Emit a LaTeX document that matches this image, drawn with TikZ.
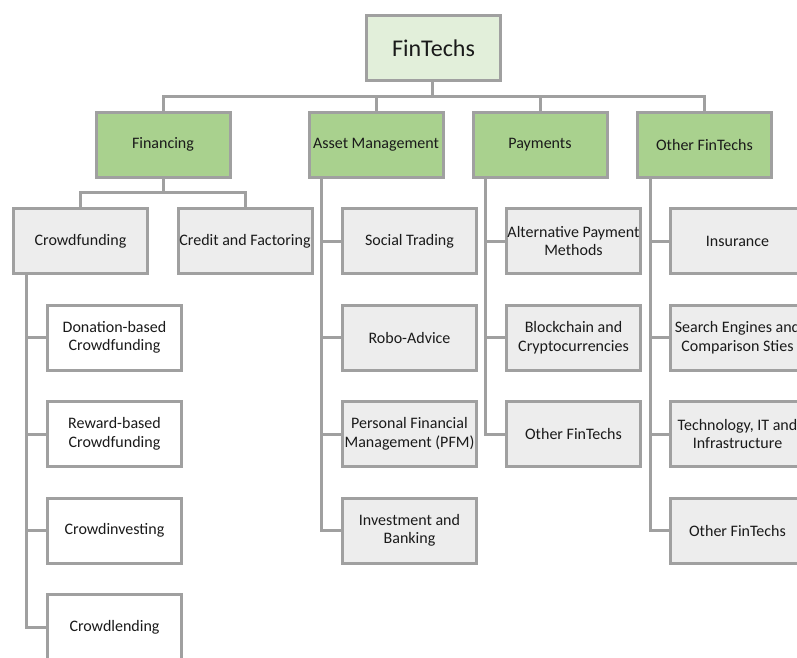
\documentclass[tikz,border=0pt]{standalone}
\usepackage{fontspec}
\setmainfont{Carlito}
\definecolor{bd}{HTML}{A0A0A0}
\definecolor{grn}{HTML}{A9D18E}
\definecolor{lgrn}{HTML}{E2EFDA}
\definecolor{gry}{HTML}{EDEDED}
\definecolor{txt}{HTML}{1A1A1A}
\tikzset{
  box/.style={draw=bd, line width=3pt, minimum width=134pt, minimum height=65pt, inner sep=0pt, align=center, text=txt, font=\fontsize{16}{18.5}\selectfont},
  rootbox/.style={box, fill=lgrn, font=\fontsize{24}{28}\selectfont},
  gbox/.style={box, fill=grn},
  lbox/.style={box, fill=gry},
  wbox/.style={box, fill=white},
  conn/.style={draw=bd, line width=3pt}
}
\begin{document}
\begin{tikzpicture}[x=1pt,y=-1pt]
\useasboundingbox (0,0) rectangle (797,657);
\clip (0,0) rectangle (797,657);
% level 0
\node[rootbox] (root) at (433.5,48) {FinTechs};
% level 1
\node[gbox] (fin) at (163,144.5) {Financing};
\node[gbox] (am) at (376,144.5) {Asset Management};
\node[gbox] (pay) at (540,144.5) {Payments};
\node[gbox] (oth) at (704.5,144.5) {Other FinTechs};
% financing children
\node[lbox] (cf) at (80.5,241) {Crowdfunding};
\node[lbox] (cr) at (245,241) {Credit and Factoring};
% crowdfunding children
\node[wbox] (cf1) at (114.5,337.5) {Donation-based\\Crowdfunding};
\node[wbox] (cf2) at (114.5,434) {Reward-based\\Crowdfunding};
\node[wbox] (cf3) at (114.5,530.5) {Crowdinvesting};
\node[wbox] (cf4) at (114.5,627) {Crowdlending};
% asset management children
\node[lbox] (am1) at (409.5,241) {Social Trading};
\node[lbox] (am2) at (409.5,337.5) {Robo-Advice};
\node[lbox] (am3) at (409.5,434) {Personal Financial\\Management (PFM)};
\node[lbox] (am4) at (409.5,530.5) {Investment and\\Banking};
% payments children
\node[lbox] (pa1) at (573.5,241) {Alternative Payment\\Methods};
\node[lbox] (pa2) at (573.5,337.5) {Blockchain and\\Cryptocurrencies};
\node[lbox] (pa3) at (573.5,434) {Other FinTechs};
% other children
\node[lbox] (ot1) at (737.5,241) {Insurance};
\node[lbox] (ot2) at (737.5,337.5) {Search Engines and\\Comparison Sties};
\node[lbox] (ot3) at (737.5,434) {Technology, IT and\\Infrastructure};
\node[lbox] (ot4) at (737.5,530.5) {Other FinTechs};
% connectors level 0 -> 1
\foreach \c in {fin,am,pay,oth}
  \draw[conn] ([xshift=-1.5pt]root.south) -- ++(0,14) -| (\c.north);
% financing -> children
\foreach \c in {cf,cr}
  \draw[conn] (fin.south) -- ++(0,14) -| (\c.north);
% stems
\foreach \c in {cf1,cf2,cf3,cf4}
  \draw[conn] ([xshift=14pt]cf.south west) |- (\c.west);
\foreach \c in {am1,am2,am3,am4}
  \draw[conn] ([xshift=14pt]am.south west) |- (\c.west);
\foreach \c in {pa1,pa2,pa3}
  \draw[conn] ([xshift=14pt]pay.south west) |- (\c.west);
\foreach \c in {ot1,ot2,ot3,ot4}
  \draw[conn] ([xshift=14pt]oth.south west) |- (\c.west);
\end{tikzpicture}
\end{document}
